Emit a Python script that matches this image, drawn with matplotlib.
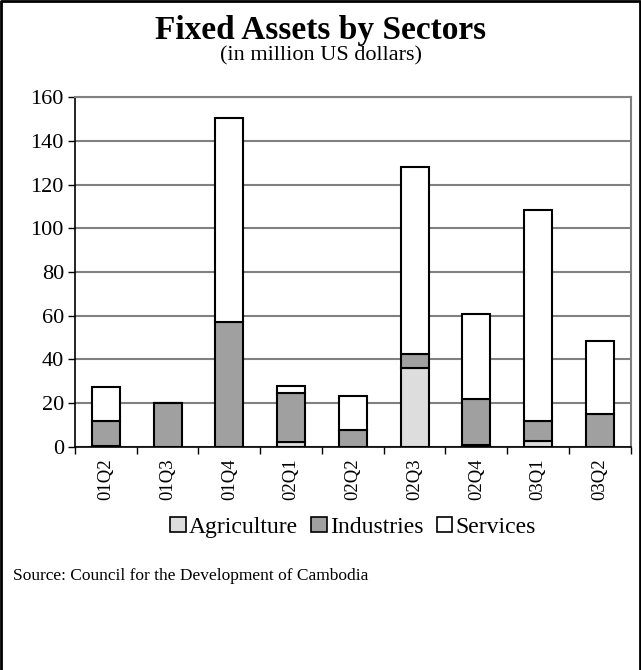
import matplotlib
matplotlib.use("Agg")
import matplotlib.pyplot as plt
import numpy as np

quarters = ["01Q2", "01Q3", "01Q4", "02Q1", "02Q2", "02Q3", "02Q4", "03Q1", "03Q2"]
agriculture = [0.4, 0.0, 0.0, 2.3, 0.0, 35.9, 0.8, 2.6, 0.0]
industries = [11.4, 20.0, 57.0, 22.4, 7.6, 6.5, 21.3, 9.4, 15.0]
services = [15.7, 0.0, 93.5, 3.2, 15.7, 85.6, 38.9, 96.5, 33.3]

plt.rcParams['font.family'] = ['Liberation Serif', 'DejaVu Serif']

fig = plt.figure(figsize=(6.41, 6.70), dpi=100)
ax = fig.add_axes([0.117, 0.333, 0.867, 0.522])

x = np.arange(len(quarters))
agri = np.array(agriculture)
ind = np.array(industries)
serv = np.array(services)

w = 0.45
ax.bar(x, agri, w, color="#dddddd", edgecolor="black", linewidth=1.5, label="Agriculture", zorder=3)
ax.bar(x, ind, w, bottom=agri, color="#a0a0a0", edgecolor="black", linewidth=1.5, label="Industries", zorder=3)
ax.bar(x, serv, w, bottom=agri + ind, color="white", edgecolor="black", linewidth=1.5, label="Services", zorder=3)

ax.set_xlim(-0.5, len(quarters) - 0.5)
ax.set_ylim(0, 160)
ax.set_yticks(np.arange(0, 161, 20))
ax.yaxis.grid(True, color="#808080", linewidth=1.5, zorder=0)
ax.tick_params(axis="y", labelsize=16, length=5, width=1, direction="out", pad=3)

ax.set_xticks(x)
ax.set_xticklabels(quarters, rotation=90, fontsize=13.5)
ax.set_xticks(np.arange(-0.5, len(quarters)), minor=True)
ax.tick_params(axis="x", which="major", length=0, pad=8)
ax.tick_params(axis="x", which="minor", length=5, width=1, direction="out")

for s in ["top", "right"]:
    ax.spines[s].set_color("#808080")
    ax.spines[s].set_linewidth(1.5)
ax.spines["left"].set_color("black")
ax.spines["bottom"].set_color("black")
ax.spines["left"].set_linewidth(1.2)
ax.spines["bottom"].set_linewidth(1.2)

fig.text(0.5, 0.954, "Fixed Assets by Sectors", ha="center", va="center",
         fontsize=24, fontweight="bold")
fig.text(0.5, 0.916, "(in million US dollars)", ha="center", va="center", fontsize=16)

leg = fig.legend(loc="center", bbox_to_anchor=(0.551, 0.213), ncol=3, frameon=False,
                 fontsize=17, handlelength=0.65, handleheight=0.65, handletextpad=0.15,
                 columnspacing=0.55)
for h in leg.legend_handles:
    h.set_linewidth(1.2)

fig.text(0.02, 0.141, "Source: Council for the Development of Cambodia", ha="left",
         va="center", fontsize=12.5)

# frame around the chart
fig.add_artist(plt.Line2D([0.002, 0.002, 0.998, 0.998], [0, 0.998, 0.998, 0],
                          transform=fig.transFigure, color="black", linewidth=2))

fig.savefig("out.png", dpi=100)
